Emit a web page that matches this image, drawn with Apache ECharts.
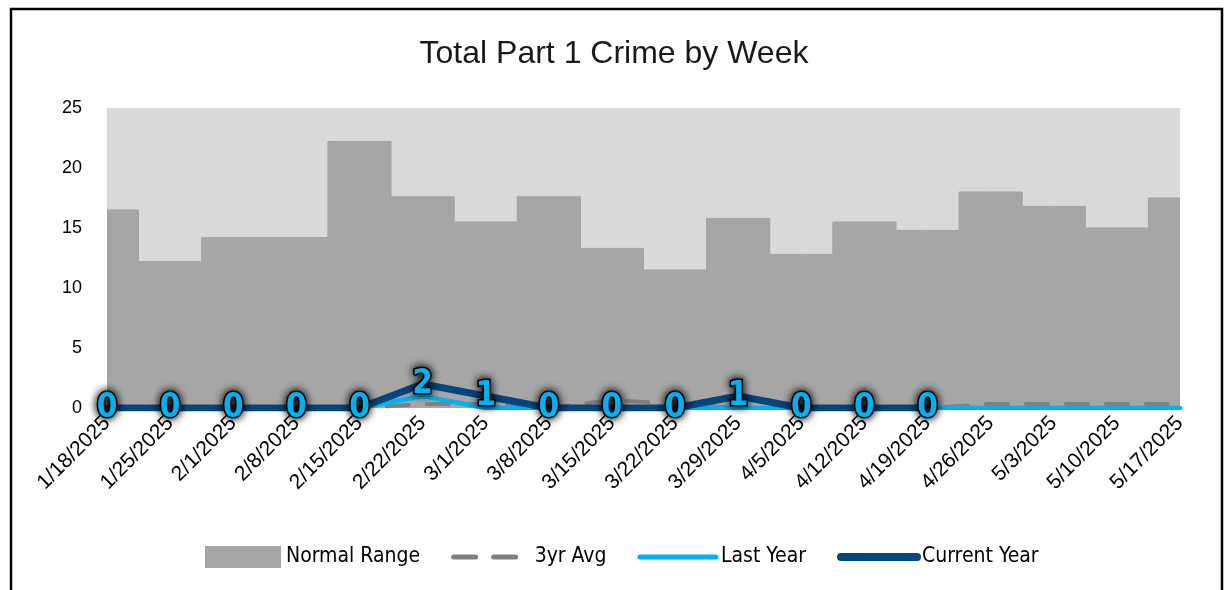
<!DOCTYPE html>
<html>
<head>
<meta charset="utf-8">
<script src="https://cdn.jsdelivr.net/npm/echarts@6/dist/echarts.min.js"></script>
<style>
html,body{margin:0;padding:0;background:#fff;}
#chart{width:1228px;height:590px;}
</style>
</head>
<body>
<div id="chart"></div>
<script>
const categories = ['1/18/2025','1/25/2025','2/1/2025','2/8/2025','2/15/2025','2/22/2025','3/1/2025','3/8/2025','3/15/2025','3/22/2025','3/29/2025','4/5/2025','4/12/2025','4/19/2025','4/26/2025','5/3/2025','5/10/2025','5/17/2025'];
const normalRange = [16.5,12.2,14.2,14.2,22.2,17.6,15.5,17.6,13.3,11.5,15.8,12.8,15.5,14.8,18.0,16.8,15.0,17.5];
const threeYrAvg = [0,0,0,0,0,0.33,0.33,0,0.67,0.33,0,0,0,0,0.33,0.33,0.33,0.33];
const lastYear = [0,0,0,0,0,1,0,0,0,0,0,0,0,0,0,0,0,0];
const currentYear = [0,0,0,0,0,2,1,0,0,0,1,0,0,0];
const yTicks = {min:0, max:25, interval:5};

const narrow = '"Liberation Sans Narrow","DejaVu Sans Condensed","Roboto",sans-serif';
const sans = '"Liberation Sans","Noto Sans",sans-serif';
const chart = echarts.init(document.getElementById('chart'));
chart.setOption({
  animation:false,
  backgroundColor:'#fff',
  graphic:[{type:'rect', shape:{x:11,y:9,width:1211,height:620}, style:{fill:'none',stroke:'#000',lineWidth:2.5}, silent:true, z:100}],
  title:{text:'Total Part 1 Crime by Week', left:'center', top:33,
    textStyle:{fontFamily:sans, fontSize:32, fontWeight:'normal', color:'#1a1a1a'}},
  grid:{left:107, right:48, top:108, bottom:182, show:true, backgroundColor:'#D9D9D9', borderWidth:0, containLabel:false},
  legend:{bottom:17, left:200, itemGap:31, itemWidth:76, itemHeight:22,
    textStyle:{fontFamily:narrow, fontSize:21, color:'#000'},
    data:[
      {name:'Normal Range', icon:'rect', itemStyle:{color:'#A6A6A6'}},
      {name:'3yr Avg', itemStyle:{color:'transparent', borderWidth:0}, lineStyle:{color:'#808080', width:5, type:[22,18], cap:'round'}},
      {name:'Last Year', itemStyle:{color:'transparent', borderWidth:0}, lineStyle:{color:'#00B0F0', width:5, cap:'round'}},
      {name:'Current Year', itemStyle:{color:'transparent', borderWidth:0}, lineStyle:{color:'#03457D', width:8, cap:'round'}}
    ]},
  xAxis:{type:'category', data:categories, boundaryGap:false,
    axisLine:{show:false}, axisTick:{show:false}, splitLine:{show:false},
    axisLabel:{rotate:45, interval:0, margin:12, fontSize:21, color:'#000', fontFamily:sans}},
  yAxis:{type:'value', min:yTicks.min, max:yTicks.max, interval:yTicks.interval,
    axisLine:{show:false}, axisTick:{show:false}, splitLine:{show:false},
    axisLabel:{margin:25, fontSize:18, color:'#000', fontFamily:sans}},
  series:[
    {name:'Normal Range', type:'line', step:'middle', data:normalRange, symbol:'none', showSymbol:false,
      lineStyle:{color:'#A2A2A2', width:1}, itemStyle:{color:'#A6A6A6'},
      areaStyle:{color:'#A6A6A6', opacity:1}, z:1},
    {name:'3yr Avg', type:'line', data:threeYrAvg, symbol:'none', showSymbol:false,
      lineStyle:{color:'#808080', width:4, type:[22,18], cap:'round'}, itemStyle:{color:'#808080'}, z:2},
    {name:'Last Year', type:'line', data:lastYear, symbol:'none', showSymbol:false,
      lineStyle:{color:'#00B0F0', width:4.5, cap:'round'}, itemStyle:{color:'#00B0F0'}, z:3},
    {name:'Current Year', type:'line', data:currentYear, symbol:'circle', symbolSize:2, showSymbol:true,
      lineStyle:{color:'#03457D', width:7, cap:'round'}, itemStyle:{color:'#03457D'}, z:4,
      label:{show:true, position:'inside', fontFamily:narrow, fontSize:33, fontWeight:'bold', color:'#00B0F0',
        textBorderColor:'#000', textBorderWidth:3, textShadowColor:'#000', textShadowBlur:8}}
  ]
});
</script>
</body>
</html>
